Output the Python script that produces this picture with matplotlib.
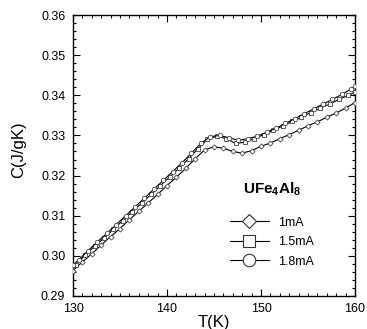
import matplotlib
matplotlib.use("Agg")
import matplotlib.pyplot as plt
from matplotlib.lines import Line2D
from matplotlib.ticker import MultipleLocator

plt.rcParams['font.family'] = ['Liberation Sans', 'DejaVu Sans']
plt.rcParams['mathtext.fontset'] = 'custom'
plt.rcParams['mathtext.rm'] = 'Liberation Sans'
plt.rcParams['mathtext.bf'] = 'Liberation Sans:bold'

# ---- data ----
T_1mA = [130.0, 131.0, 132.0, 133.0, 134.0, 135.0, 136.0, 137.0, 138.0, 139.0,
         140.0, 141.0, 142.0, 143.0, 144.0, 145.0, 146.0, 147.0, 148.0, 149.0,
         150.0, 151.0, 152.0, 153.0, 154.0, 155.0, 156.0, 157.0, 158.0, 159.0, 160.0]
C_1mA = [0.2963, 0.2985, 0.3005, 0.3027, 0.3048, 0.3068, 0.3090, 0.3111, 0.3132, 0.3153,
         0.3175, 0.3196, 0.3218, 0.3242, 0.3264, 0.3272, 0.3268, 0.3260, 0.3256, 0.3262,
         0.3273, 0.3281, 0.3292, 0.3302, 0.3313, 0.3324, 0.3334, 0.3345, 0.3356, 0.3368, 0.3382]

T_15mA = [130.3, 131.3, 132.3, 133.3, 134.3, 135.3, 136.3, 137.3, 138.3, 139.3,
          140.3, 141.3, 142.3, 143.3, 144.3, 145.3, 146.3, 147.3, 148.3, 149.3,
          150.3, 151.3, 152.3, 153.3, 154.3, 155.3, 156.3, 157.3, 158.3, 159.3, 160.0]
C_15mA = [0.2978, 0.3002, 0.3024, 0.3045, 0.3066, 0.3088, 0.3110, 0.3131, 0.3153, 0.3175,
          0.3197, 0.3219, 0.3242, 0.3267, 0.3290, 0.3298, 0.3292, 0.3280, 0.3283, 0.3292,
          0.3302, 0.3313, 0.3323, 0.3335, 0.3345, 0.3357, 0.3368, 0.3378, 0.3390, 0.3400, 0.3408]

T_18mA = [130.0, 130.6, 131.6, 132.6, 133.6, 134.6, 135.6, 136.6, 137.6, 138.6, 139.6,
          140.6, 141.6, 142.6, 143.6, 144.6, 145.6, 146.6, 147.6, 148.6, 149.6,
          150.6, 151.6, 152.6, 153.6, 154.6, 155.6, 156.6, 157.6, 158.6, 159.6, 160.0]
C_18mA = [0.2977, 0.2990, 0.3013, 0.3035, 0.3056, 0.3078, 0.3100, 0.3122, 0.3144, 0.3166, 0.3188,
          0.3210, 0.3232, 0.3256, 0.3280, 0.3297, 0.3300, 0.3294, 0.3288, 0.3292, 0.3298,
          0.3308, 0.3318, 0.3330, 0.3342, 0.3354, 0.3366, 0.3378, 0.3390, 0.3402, 0.3416, 0.3422]

labels = ['1mA', '1.5mA', '1.8mA']
markers = ['D', 's', 'o']
xticks = [130, 140, 150, 160]
yticks = [0.29, 0.30, 0.31, 0.32, 0.33, 0.34, 0.35, 0.36]
ytick_labels = ['0.29', '0.30', '0.31', '0.32', '0.33', '0.34', '0.35', '0.36']

fig = plt.figure(figsize=(3.67, 3.29), dpi=100)
ax = fig.add_axes([73/367, 1 - 296/329, 282/367, 281/329])

series = [(T_1mA, C_1mA), (T_15mA, C_15mA), (T_18mA, C_18mA)]
msizes = [2.6, 3.0, 3.2]
for (t, c), m, ms in zip(series, markers, msizes):
    ax.plot(t, c, color='black', lw=0.8, marker=m, ms=ms, mfc='white',
            mec='#444444', mew=0.6, zorder=3)

ax.set_xlim(130, 160)
ax.set_ylim(0.29, 0.36)
ax.set_xticks(xticks)
ax.set_yticks(yticks)
ax.set_yticklabels(ytick_labels)
ax.xaxis.set_minor_locator(MultipleLocator(1))
ax.yaxis.set_minor_locator(MultipleLocator(0.002))
ax.tick_params(which='both', direction='in', top=True, right=True, width=0.8, labelsize=9)
ax.tick_params(which='major', length=5)
ax.tick_params(which='minor', length=2.5)
ax.tick_params(axis='x', pad=5)
ax.tick_params(axis='y', pad=5.5)
for s in ax.spines.values():
    s.set_linewidth(1.0)

ax.set_xlabel('T(K)', fontsize=12, labelpad=0)
ax.set_ylabel('C(J/gK)', fontsize=12)
ax.yaxis.set_label_coords(-0.165, 0.52)

ax.text(0.706, 0.381, r'$\mathbf{UFe_4Al_8}$', transform=ax.transAxes,
        ha='center', va='center', fontsize=11)

handles = [Line2D([], [], color='black', lw=0.8, marker=m, ms=9, mfc='white',
                  mec='#333333', mew=0.8) for m in ['D', 's', 'o']]
handles[0].set_markersize(7)
ax.legend(handles, labels, loc='center', bbox_to_anchor=(0.706, 0.192),
          frameon=False, fontsize=9, handlelength=3.1, handletextpad=0.8,
          labelspacing=0.6)

fig.savefig('out.png', dpi=100)
